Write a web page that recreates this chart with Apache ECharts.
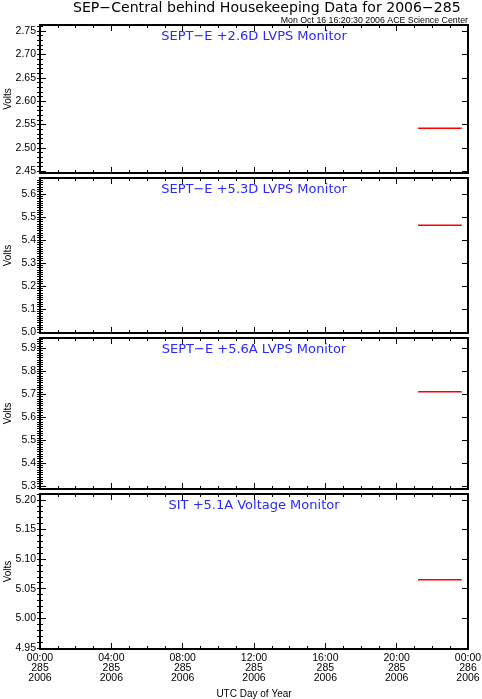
<!DOCTYPE html>
<html>
<head>
<meta charset="utf-8">
<script src="https://cdn.jsdelivr.net/npm/echarts@6/dist/echarts.min.js"></script>
<style>
html,body{margin:0;padding:0;background:#fff;}
#chart{width:482px;height:699px;}
</style>
</head>
<body>
<div id="chart"></div>
<script>
// ---- data ----
const xTickHours = [0, 4, 8, 12, 16, 20, 24];
const xTickTimes = ['00:00', '04:00', '08:00', '12:00', '16:00', '20:00', '00:00'];
const xTickDays = ['285', '285', '285', '285', '285', '285', '286'];
const xTickYears = ['2006', '2006', '2006', '2006', '2006', '2006', '2006'];

const panelTitles = ['SEPT\u2212E +2.6D LVPS Monitor', 'SEPT\u2212E +5.3D LVPS Monitor', 'SEPT\u2212E +5.6A LVPS Monitor', 'SIT +5.1A Voltage Monitor'];

const sampleHours = [21.2, 22.0, 23.0, 23.65];
const lvps26 = [2.542, 2.542, 2.542, 2.542];
const lvps53 = [5.463, 5.463, 5.463, 5.463];
const lvps56 = [5.711, 5.711, 5.711, 5.711];
const sit51 = [5.065, 5.065, 5.065, 5.065];

const yTicks1 = [2.45, 2.50, 2.55, 2.60, 2.65, 2.70, 2.75];
const yTicks2 = [5.0, 5.1, 5.2, 5.3, 5.4, 5.5, 5.6];
const yTicks3 = [5.3, 5.4, 5.5, 5.6, 5.7, 5.8, 5.9];
const yTicks4 = [4.95, 5.00, 5.05, 5.10, 5.15, 5.20];

// ---- layout ----
const panels = [
  {top: 25, height: 148, min: 2.446, max: 2.763, ticks: yTicks1, dec: 2, vals: lvps26},
  {top: 178, height: 155, min: 4.995, max: 5.669, ticks: yTicks2, dec: 1, vals: lvps53},
  {top: 338, height: 151, min: 5.287, max: 5.945, ticks: yTicks3, dec: 1, vals: lvps56},
  {top: 494, height: 155, min: 4.948, max: 5.21, ticks: yTicks4, dec: 2, vals: sit51}
];
const FONT = 'Liberation Sans';
const TFONT = 'DejaVu Sans';
const LEFT = 40, WIDTH = 428;

function minorVals(min, max, step) {
  const out = [];
  const start = Math.ceil(min / step - 1e-9);
  const end = Math.floor(max / step + 1e-9);
  for (let i = start; i <= end; i++) out.push(Math.round(i * step * 1000) / 1000);
  return out;
}

const grids = [], xAxes = [], yAxes = [], series = [], titles = [], graphics = [];
titles.push({text: 'SEP\u2212Central behind Housekeeping Data for 2006\u2212285', left: 73, top: 1, padding: 0,
  textStyle: {fontFamily: TFONT, fontSize: 14.1, fontWeight: 'normal', color: '#000'}});
titles.push({text: 'Mon Oct 16 16:20:30 2006 ACE Science Center', right: 14, top: 16, padding: 0,
  textStyle: {fontFamily: FONT, fontSize: 8.8, fontWeight: 'normal', color: '#000'}});

panels.forEach((p, gi) => {
  grids.push({left: LEFT, width: WIDTH, top: p.top, height: p.height, containLabel: false, outerBoundsMode: 'none'});
  titles.push({text: panelTitles[gi], left: LEFT + WIDTH / 2, textAlign: 'center', top: p.top + 5, padding: 0,
    textStyle: {fontFamily: TFONT, fontSize: 13, fontWeight: 'normal', color: '#2a2aff'}});
  graphics.push({type: 'text', x: 8, y: p.top + p.height / 2, rotation: Math.PI / 2, silent: true,
    style: {text: 'Volts', fontFamily: FONT, fontSize: 10, fill: '#000', align: 'center', verticalAlign: 'middle'}});
  const isLast = gi === panels.length - 1;
  // bottom x axis
  xAxes.push({
    type: 'value', gridIndex: gi, position: 'bottom', min: 0, max: 24, interval: 4,
    axisLine: {show: true, onZero: false, lineStyle: {color: '#000', width: 2}},
    axisTick: {show: true, inside: true, length: 6, lineStyle: {color: '#000', width: 1}},
    minorTick: {show: true, splitNumber: 4, length: 3, lineStyle: {color: '#000', width: 1}},
    splitLine: {show: false}, minorSplitLine: {show: false},
    axisLabel: {show: isLast, margin: 4, fontFamily: FONT, fontSize: 10.5, lineHeight: 10, color: '#000',
      formatter: v => { const i = xTickHours.indexOf(v); return i < 0 ? '' : xTickTimes[i] + '\n' + xTickDays[i] + '\n' + xTickYears[i]; }},
    name: isLast ? 'UTC Day of Year' : '', nameLocation: 'middle', nameGap: 40,
    nameTextStyle: {fontFamily: FONT, fontSize: 10, color: '#000'}
  });
  // top x axis
  xAxes.push({
    type: 'value', gridIndex: gi, position: 'top', min: 0, max: 24, interval: 4,
    axisLine: {show: true, onZero: false, lineStyle: {color: '#000', width: 2}},
    axisTick: {show: true, inside: true, length: 6, lineStyle: {color: '#000', width: 1}},
    minorTick: {show: true, splitNumber: 4, length: 3, lineStyle: {color: '#000', width: 1}},
    splitLine: {show: false}, minorSplitLine: {show: false},
    axisLabel: {show: false}
  });
  const minors = minorVals(p.min, p.max, 0.01);
  const yBase = {type: 'value', gridIndex: gi, min: p.min, max: p.max, splitLine: {show: false}, scale: true};
  const mainY = yAxes.length;
  yAxes.push(Object.assign({}, yBase, {
    position: 'left',
    axisLine: {show: true, onZero: false, lineStyle: {color: '#000', width: 2}},
    axisTick: {show: true, inside: true, length: 6, customValues: p.ticks, lineStyle: {color: '#000', width: 1}},
    axisLabel: {show: true, customValues: p.ticks, margin: 4, fontFamily: FONT, fontSize: 10.5, color: '#000',
      formatter: v => v.toFixed(p.dec)}
  }));
  yAxes.push(Object.assign({}, yBase, {
    position: 'left',
    axisLine: {show: false},
    axisTick: {show: true, inside: true, length: 3, customValues: minors, lineStyle: {color: '#000', width: 1}},
    axisLabel: {show: false}
  }));
  yAxes.push(Object.assign({}, yBase, {
    position: 'right',
    axisLine: {show: true, onZero: false, lineStyle: {color: '#000', width: 2}},
    axisTick: {show: true, inside: true, length: 6, customValues: p.ticks, lineStyle: {color: '#000', width: 1}},
    axisLabel: {show: false}
  }));
  yAxes.push(Object.assign({}, yBase, {
    position: 'right',
    axisLine: {show: false},
    axisTick: {show: true, inside: true, length: 3, customValues: minors, lineStyle: {color: '#000', width: 1}},
    axisLabel: {show: false}
  }));
  series.push({
    type: 'line', xAxisIndex: gi * 2, yAxisIndex: mainY, symbol: 'none', silent: true,
    lineStyle: {color: '#ff0000', width: 1.5}, animation: false,
    data: sampleHours.map((h, i) => [h, p.vals[i]])
  });
});

const chart = echarts.init(document.getElementById('chart'), null, {renderer: 'canvas'});
chart.setOption({
  animation: false,
  backgroundColor: '#fff',
  title: titles,
  grid: grids,
  xAxis: xAxes,
  yAxis: yAxes,
  series: series,
  graphic: graphics
});
</script>
</body>
</html>
